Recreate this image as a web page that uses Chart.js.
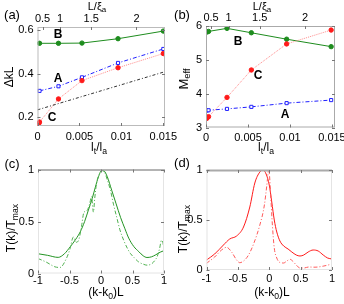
<!DOCTYPE html>
<html>
<head>
<meta charset="utf-8">
<script src="https://cdn.jsdelivr.net/npm/chart.js@4.4.0/dist/chart.umd.min.js"></script>
<style>
  body { margin: 0; background: #fff; }
  #wrap { position: relative; width: 344px; height: 304px; }
  canvas { position: absolute; left: 0; top: 0; }
</style>
</head>
<body>
<div id="wrap">
  <canvas id="pa" width="344" height="304"></canvas>
  <canvas id="pb" width="344" height="304"></canvas>
  <canvas id="pc" width="344" height="304"></canvas>
  <canvas id="pd" width="344" height="304"></canvas>
</div>
<script>
// ---- data: panels (a) and (b), x = l_t/l_a ----
const ltMain = [0.00024, 0.0025, 0.0053, 0.0096, 0.015];
const dklB = [0.539, 0.539, 0.540, 0.560, 0.595];
const dklA = [0.321, 0.342, 0.383, 0.449, 0.513];
const ltC = [0.00005, 0.00015, 0.00024, 0.0025, 0.0053, 0.0096, 0.015];
const dklC = [0.163, 0.171, 0.178, 0.284, 0.368, 0.427, 0.492];
const ltRef = [0, 0.0152];
const dklRef = [0.234, 0.409];

const ltB2 = [0.0001, 0.0003, 0.0025, 0.0054, 0.0096, 0.0149];
const meffB = [5.82, 5.84, 5.93, 5.80, 5.61, 5.39];
const meffC = [3.27, 3.32, 3.89, 4.70, 5.47, 5.88];
const meffA = [3.50, 3.51, 3.55, 3.61, 3.72, 3.81];

// ---- data: panels (c) and (d), x = (k-k0)L ----
const cSolidK = [-1, -0.85, -0.68, -0.58, -0.49, -0.4, -0.33, -0.26, -0.2, -0.14, -0.09, -0.04, 0.01, 0.05, 0.1, 0.17, 0.24, 0.31, 0.38, 0.44, 0.52, 0.6, 0.67, 0.73, 0.8, 0.87, 0.94, 1.0];
const cSolidT = [0.19, 0.175, 0.155, 0.19, 0.256, 0.33, 0.40, 0.5, 0.61, 0.72, 0.83, 0.93, 0.99, 0.985, 0.93, 0.80, 0.67, 0.54, 0.43, 0.34, 0.26, 0.21, 0.17, 0.154, 0.16, 0.18, 0.205, 0.22];
const cDashK = [-1, -0.87, -0.73, -0.65, -0.55, -0.49, -0.44, -0.39, -0.35, -0.31, -0.27, -0.23, -0.18, -0.15, -0.12, -0.1, -0.07, -0.03, 0.013, 0.06, 0.1, 0.15, 0.2, 0.25, 0.3, 0.36, 0.42, 0.47, 0.53, 0.6, 0.67, 0.73, 0.81, 0.86, 0.89, 0.93, 0.96, 0.98, 1.0];
const cDashT = [0.144, 0.11, 0.064, 0.058, 0.144, 0.24, 0.35, 0.30, 0.33, 0.45, 0.59, 0.6, 0.67, 0.74, 0.59, 0.72, 0.87, 0.95, 0.99, 0.97, 0.9, 0.8, 0.66, 0.54, 0.42, 0.32, 0.24, 0.19, 0.15, 0.11, 0.09, 0.08, 0.096, 0.13, 0.16, 0.24, 0.32, 0.3, 0.24];

const dSolidK = [-1, -0.87, -0.73, -0.63, -0.52, -0.41, -0.31, -0.23, -0.15, -0.1, -0.05, 0.0, 0.04, 0.08, 0.12, 0.17, 0.23, 0.3, 0.36, 0.43, 0.49, 0.55, 0.62, 0.7, 0.78, 0.86, 0.93, 1.0];
const dSolidT = [0.1, 0.16, 0.25, 0.31, 0.34, 0.43, 0.63, 0.87, 0.98, 1.0, 0.96, 0.85, 0.68, 0.5, 0.38, 0.29, 0.24, 0.21, 0.18, 0.15, 0.14, 0.15, 0.18, 0.2, 0.19, 0.15, 0.12, 0.11];
const dDashK = [-1, -0.87, -0.76, -0.68, -0.6, -0.52, -0.47, -0.4, -0.33, -0.25, -0.15, -0.08, -0.04, -0.02, -0.01, 0.0, 0.02, 0.05, 0.08, 0.12, 0.17, 0.23, 0.28, 0.33, 0.38, 0.43, 0.49, 0.55, 0.63, 0.73, 0.87, 1.0];
const dDashT = [0.067, 0.13, 0.2, 0.227, 0.18, 0.1, 0.073, 0.095, 0.15, 0.26, 0.45, 0.64, 0.84, 0.96, 1.0, 0.98, 0.78, 0.45, 0.22, 0.12, 0.075, 0.07, 0.09, 0.107, 0.085, 0.05, 0.02, 0.02, 0.03, 0.028, 0.04, 0.06];

// ---- tick labels ----
const ltTicks = [0, 0.005, 0.01, 0.015];
const ltLabels = ['0', '0.005', '0.01', '0.015'];
const xiTicks = [0.0006, 0.0027, 0.0064, 0.0118];
const xiLabels = ['0.5', '1', '1.5', '2'];
const dklTicks = [0.2, 0.4, 0.6];
const dklLabels = ['0.2', '0.4', '0.6'];
const meffTicks = [3, 4, 5, 6];
const meffLabels = ['3', '4', '5', '6'];
const kTicks = [-1, -0.5, 0, 0.5, 1];
const kLabels = ['-1', '-0.5', '0', '0.5', '1'];
const tTicks = [0, 0.5, 1];
const tLabels = ['0', '0.5', '1'];

const W = 344, H = 304;
const FAM = "'Liberation Sans', Arial, sans-serif";
const pts = (xs, ys) => xs.map((x, i) => ({ x: x, y: ys[i] }));

function drawRich(ctx, t) {
  const size = t.size || 11;
  const w = t.bold ? 'bold ' : '';
  let total = 0;
  const widths = t.parts.map(p => {
    ctx.font = w + (p[1] ? size * 0.72 : size) + 'px ' + FAM;
    const m = ctx.measureText(p[0]).width;
    total += m;
    return m;
  });
  ctx.save();
  ctx.translate(t.x, t.y);
  if (t.rot) ctx.rotate(t.rot);
  ctx.fillStyle = '#000';
  ctx.textBaseline = 'middle';
  ctx.textAlign = 'left';
  let x = -total / 2;
  t.parts.forEach((p, i) => {
    ctx.font = w + (p[1] ? size * 0.72 : size) + 'px ' + FAM;
    ctx.fillText(p[0], x, p[1] ? size * 0.3 : 0);
    x += widths[i];
  });
  ctx.restore();
}

const deco = {
  id: 'deco',
  afterDraw(chart, args, opts) {
    const ctx = chart.ctx, a = chart.chartArea;
    ctx.save();
    ctx.strokeStyle = opts.boxColor;
    ctx.lineWidth = 1;
    ctx.strokeRect(a.left + 0.5, a.top + 0.5, a.right - a.left - 1, a.bottom - a.top - 1);
    if (opts.topLine) {
      ctx.strokeStyle = opts.topLine.color;
      ctx.lineWidth = opts.topLine.width;
      ctx.beginPath();
      ctx.moveTo(a.left, a.top + 0.5);
      ctx.lineTo(a.right, a.top + 0.5);
      ctx.stroke();
    }
    // small inward ticks, matlab style
    ctx.strokeStyle = '#777';
    ctx.lineWidth = 1;
    ctx.beginPath();
    chart.scales.x.ticks.forEach(t => {
      const px = Math.round(chart.scales.x.getPixelForValue(t.value)) + 0.5;
      ctx.moveTo(px, a.bottom); ctx.lineTo(px, a.bottom - 3);
      if (!chart.scales.x2) { ctx.moveTo(px, a.top); ctx.lineTo(px, a.top + 3); }
    });
    if (chart.scales.x2) {
      chart.scales.x2.ticks.forEach(t => {
        const px = Math.round(chart.scales.x2.getPixelForValue(t.value)) + 0.5;
        ctx.moveTo(px, a.top); ctx.lineTo(px, a.top + 3);
      });
    }
    chart.scales.y.ticks.forEach(t => {
      const py = Math.round(chart.scales.y.getPixelForValue(t.value)) + 0.5;
      ctx.moveTo(a.left, py); ctx.lineTo(a.left + 3, py);
      ctx.moveTo(a.right, py); ctx.lineTo(a.right - 3, py);
    });
    ctx.stroke();
    ctx.restore();
    (opts.texts || []).forEach(t => drawRich(ctx, t));
  }
};

function axis(ticks, labels, min, max, prop, size, pad, extra) {
  return Object.assign({
    type: 'linear',
    min: min,
    max: max,
    afterBuildTicks: s => { s.ticks = ticks.map(v => ({ value: v })); },
    afterFit: s => {
      s[prop] = size;
      s.paddingLeft = s.paddingRight = s.paddingTop = s.paddingBottom = 0;
    },
    ticks: {
      callback: (v, i) => labels[i],
      padding: pad,
      maxRotation: 0,
      autoSkip: false,
      color: '#000',
      font: { family: FAM, size: 11 }
    },
    grid: { display: false, drawTicks: false },
    border: { display: false }
  }, extra || {});
}

function panel(id, box, o) {
  const yW = 30, xH = 18, tH = o.top ? 16 : 0;
  const scales = {
    x: axis(o.xTicks, o.xLabels, o.xMin, o.xMax, 'height', xH, o.xPad),
    y: axis(o.yTicks, o.yLabels, o.yMin, o.yMax, 'width', yW, 4)
  };
  if (o.top) {
    scales.x2 = axis(xiTicks, xiLabels, o.xMin, o.xMax, 'height', tH, 1, { position: 'top' });
  }
  return new Chart(document.getElementById(id), {
    type: 'scatter',
    data: { datasets: o.datasets },
    options: {
      responsive: false,
      animation: false,
      devicePixelRatio: 1,
      layout: { padding: { left: box.l - yW, right: W - box.r, top: box.t - tH, bottom: H - box.b - xH } },
      plugins: {
        legend: { display: false },
        tooltip: { enabled: false },
        deco: { boxColor: o.boxColor || '#bbb', topLine: o.topLine, texts: o.texts }
      },
      scales: scales
    },
    plugins: [deco]
  });
}

const GREEN = '#1e8c1e', BLUE = '#2020ff', RED = '#ff1a1a';

function markerSet(xs, ys, color, style, fill, line, dash) {
  return {
    data: pts(xs, ys), showLine: true, borderColor: line, borderWidth: 1,
    borderDash: dash, pointStyle: style, pointRadius: 2.2,
    pointBackgroundColor: fill, pointBorderColor: color, pointBorderWidth: 1
  };
}

// (a)
panel('pa', { l: 37.5, r: 165, t: 27, b: 126 }, {
  top: true, xMin: 0, xMax: 0.0152, yMin: 0.16, yMax: 0.6137, xPad: 4,
  xTicks: ltTicks, xLabels: ltLabels, yTicks: dklTicks, yLabels: dklLabels,
  datasets: [
    { data: pts(ltRef, dklRef), showLine: true, borderColor: '#333', borderWidth: 1, borderDash: [3, 2, 1, 2], pointRadius: 0 },
    markerSet(ltC, dklC, RED, 'circle', RED, 'rgba(255,120,120,0.85)', [1, 1]),
    markerSet(ltMain, dklA, BLUE, 'rect', '#fff', BLUE, [4, 2, 1, 2]),
    markerSet(ltMain, dklB, GREEN, 'circle', GREEN, GREEN, [])
  ],
  texts: [
    { x: 12, y: 15, parts: [['(a)', 0]], size: 13 },
    { x: 97, y: 7, parts: [['L/ξ', 0], ['a', 1]] },
    { x: 10, y: 77, parts: [['ΔkL', 0]], rot: -Math.PI / 2, size: 12 },
    { x: 99, y: 148, parts: [['l', 0], ['t', 1], ['/l', 0], ['a', 1]], size: 12 },
    { x: 58, y: 35, parts: [['B', 0]], bold: true, size: 12 },
    { x: 58, y: 79, parts: [['A', 0]], bold: true, size: 12 },
    { x: 52, y: 118, parts: [['C', 0]], bold: true, size: 12 }
  ]
});

// (b)
panel('pb', { l: 206, r: 335, t: 26, b: 127.5 }, {
  top: true, xMin: 0, xMax: 0.01536, yMin: 3, yMax: 6, xPad: 4,
  xTicks: ltTicks, xLabels: ltLabels, yTicks: meffTicks, yLabels: meffLabels,
  boxColor: '#aaa',
  datasets: [
    markerSet(ltB2, meffC, RED, 'circle', RED, 'rgba(255,120,120,0.85)', [1, 1]),
    markerSet(ltB2, meffA, BLUE, 'rect', '#fff', BLUE, [4, 2, 1, 2]),
    markerSet(ltB2, meffB, GREEN, 'circle', GREEN, GREEN, [])
  ],
  texts: [
    { x: 182, y: 15, parts: [['(b)', 0]], size: 13 },
    { x: 262, y: 7, parts: [['L/ξ', 0], ['a', 1]] },
    { x: 184, y: 79, parts: [['M', 0], ['eff', 1]], rot: -Math.PI / 2, size: 13 },
    { x: 266, y: 148, parts: [['l', 0], ['t', 1], ['/l', 0], ['a', 1]], size: 12 },
    { x: 238, y: 42, parts: [['B', 0]], bold: true, size: 12 },
    { x: 258, y: 76, parts: [['C', 0]], bold: true, size: 12 },
    { x: 285, y: 115, parts: [['A', 0]], bold: true, size: 12 }
  ]
});

function curve(xs, ys, color, dash, width) {
  return {
    data: pts(xs, ys), showLine: true, borderColor: color, borderWidth: width,
    borderDash: dash, pointRadius: 0, cubicInterpolationMode: 'monotone'
  };
}

// (c)
panel('pc', { l: 38, r: 164, t: 169.5, b: 273.5 }, {
  xMin: -1, xMax: 1, yMin: 0, yMax: 1, xPad: 1,
  xTicks: kTicks, xLabels: kLabels, yTicks: tTicks, yLabels: tLabels,
  boxColor: '#e4e4e4', topLine: { color: '#777', width: 1 },
  datasets: [
    curve(cDashK, cDashT, '#4fb04f', [4, 2, 1, 2], 1),
    curve(cSolidK, cSolidT, '#229322', [], 1)
  ],
  texts: [
    { x: 12, y: 164, parts: [['(c)', 0]], size: 13 },
    { x: 12, y: 228, parts: [['T(k)/T', 0], ['max', 1]], rot: -Math.PI / 2, size: 12 },
    { x: 106, y: 293, parts: [['(k-k', 0], ['0', 1], [')L', 0]], size: 12 }
  ]
});

// (d)
panel('pd', { l: 206.5, r: 332, t: 170, b: 270 }, {
  xMin: -1, xMax: 1, yMin: 0, yMax: 1, xPad: 2,
  xTicks: kTicks, xLabels: kLabels, yTicks: tTicks, yLabels: tLabels,
  boxColor: '#e4e4e4', topLine: { color: '#aaa', width: 2 },
  datasets: [
    curve(dDashK, dDashT, '#ff5a5a', [4, 2, 1, 2], 1),
    curve(dSolidK, dSolidT, '#ff1a1a', [], 1)
  ],
  texts: [
    { x: 182, y: 163, parts: [['(d)', 0]], size: 13 },
    { x: 184, y: 229, parts: [['T(k)/T', 0], ['max', 1]], rot: -Math.PI / 2, size: 12 },
    { x: 272, y: 293, parts: [['(k-k', 0], ['0', 1], [')L', 0]], size: 12 }
  ]
});
</script>
</body>
</html>
